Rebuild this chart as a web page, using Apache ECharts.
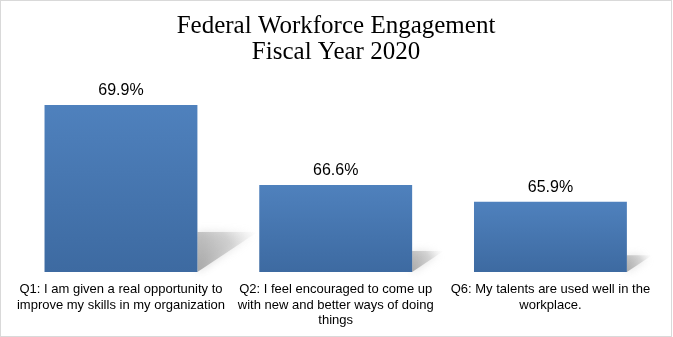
<!DOCTYPE html>
<html>
<head>
<meta charset="utf-8">
<script src="https://cdn.jsdelivr.net/npm/echarts@6/dist/echarts.min.js"></script>
<style>
html,body{margin:0;padding:0;background:#fff;}
#wrap{position:absolute;left:0;top:0;width:672px;height:337px;box-sizing:border-box;border:1px solid #d9d9d9;}
#chart{width:670px;height:335px;}
</style>
</head>
<body>
<div id="wrap"><div id="chart"></div></div>
<script>
const titleLines = ['Federal Workforce Engagement', 'Fiscal Year 2020'];
const categories = [
  'Q1: I am given a real opportunity to\nimprove my skills in my organization',
  'Q2: I feel encouraged to come up\nwith new and better ways of doing\nthings',
  'Q6: My talents are used well in the\nworkplace.'
];
const values = [69.9, 66.6, 65.9];
const axisMin = 63;
const axisMax = 70;

const chart = echarts.init(document.getElementById('chart'), null, {renderer: 'canvas'});
const barRatio = 0.712;

chart.setOption({
  animation: false,
  title: {
    text: titleLines.join('\n'),
    left: 'center',
    top: 7,
    textStyle: {fontFamily: 'Liberation Serif', fontWeight: 'normal', fontSize: 25, lineHeight: 26, color: '#000'}
  },
  grid: {left: 12.6, right: 13.2, top: 101.6, bottom: 64, containLabel: false},
  xAxis: {
    type: 'category',
    data: categories,
    axisLine: {show: false},
    axisTick: {show: false},
    axisLabel: {
      interval: 0,
      margin: 10,
      fontFamily: 'Liberation Sans',
      fontSize: 13,
      lineHeight: 15.5,
      color: '#000',
      align: 'center'
    }
  },
  yAxis: {
    type: 'value',
    min: axisMin,
    max: axisMax,
    show: false,
    splitLine: {show: false}
  },
  series: [
    {
      type: 'custom',
      z: 1,
      silent: true,
      data: values.map((v, i) => [i, v]),
      renderItem: function (params, api) {
        const top = api.coord([api.value(0), api.value(1)]);
        const base = api.coord([api.value(0), axisMin]);
        const bw = api.size([1, 0])[0] * barRatio;
        const xr = top[0] + bw / 2;
        const h = base[1] - top[1];
        const dy = 0.24 * h, dx = 0.36 * h;
        return {
          type: 'polygon',
          shape: {points: [[xr, base[1]], [xr, base[1] - dy], [xr + dx, base[1] - dy]]},
          style: {
            fill: new echarts.graphic.LinearGradient(0, 1, 1, 0, [
              {offset: 0, color: 'rgba(150,150,150,0.8)'},
              {offset: 0.6, color: 'rgba(185,185,185,0.5)'},
              {offset: 1, color: 'rgba(220,220,220,0.0)'}
            ]),
            shadowBlur: 8,
            shadowColor: 'rgba(170,170,170,0.6)'
          }
        };
      }
    },
    {
      type: 'bar',
      z: 2,
      data: values,
      barWidth: (barRatio * 100) + '%',
      itemStyle: {
        color: new echarts.graphic.LinearGradient(0, 0, 0, 1, [
          {offset: 0, color: '#4f81bd'},
          {offset: 1, color: '#3d6aa1'}
        ])
      },
      label: {
        show: true,
        position: 'top',
        distance: 6,
        formatter: p => p.value.toFixed(1) + '%',
        fontFamily: 'Liberation Sans',
        fontSize: 16,
        color: '#000'
      }
    }
  ]
});
</script>
</body>
</html>
